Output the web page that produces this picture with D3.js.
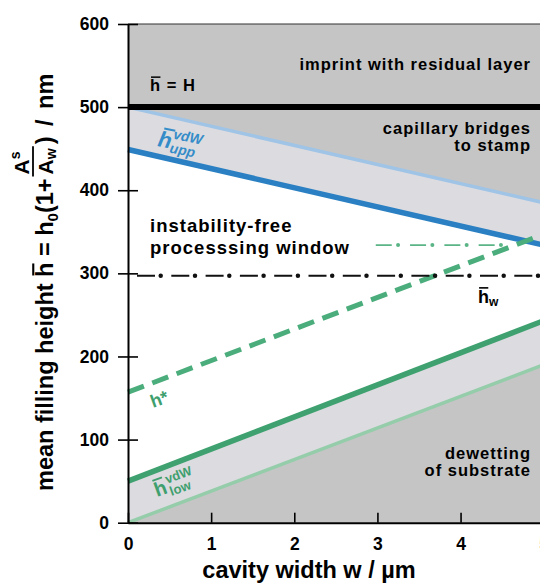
<!DOCTYPE html>
<html>
<head>
<meta charset="utf-8">
<script src="https://cdn.jsdelivr.net/npm/d3@7"></script>
<style>
  body { margin: 0; background: #fff; }
  svg { display: block; font-family: "Liberation Sans", Arial, sans-serif; font-weight: bold; }
</style>
</head>
<body>
<script>
// values (w in um, heights in nm)
const wTicks = [0, 1, 2, 3, 4, 5];
const hTicks = [0, 100, 200, 300, 400, 500, 600];
const wEnds = [0, 5];
const hUppLight = [500, 385];   // h_upp vdW, light blue
const hUppDark = [449, 334];    // dark blue
const hStar = [157, 347];       // h*, dashed
const hLowDark = [50, 243];     // dark green
const hLowLight = [0, 190];     // h_low vdW, light green
const hTotal = 500;             // h = H
const hW = 297;                 // h_w
const windowW = [2.98, 4.51];   // pointer from the window label
const windowH = 334;

const W = 540, H = 584;
const gray = "#c5c5c5", band = "#dcdbe0";

const svg = d3.select("body").append("svg")
    .attr("width", W)
    .attr("height", H);

const x = d3.scaleLinear().domain([0, 5]).range([128, 543.7]);
const y = d3.scaleLinear().domain([0, 600]).range([522.7, 24]);

const pts = (lo, hi) => wEnds.map((v, i) => ({
    w: v,
    lo: Array.isArray(lo) ? lo[i] : lo,
    hi: Array.isArray(hi) ? hi[i] : hi
}));

const area = d3.area()
    .x(d => x(d.w))
    .y0(d => y(d.lo))
    .y1(d => y(d.hi));

const line = d3.line()
    .x(d => x(d[0]))
    .y(d => y(d[1]));

// shaded regions
svg.append("path").attr("d", area(pts(hUppLight, 600))).attr("fill", gray);
svg.append("path").attr("d", area(pts(hUppDark, hUppLight))).attr("fill", band);
svg.append("path").attr("d", area(pts(hLowLight, hLowDark))).attr("fill", band);
svg.append("path").attr("d", area(pts(0, hLowLight))).attr("fill", gray);

// top border
svg.append("line")
    .attr("x1", x(0)).attr("x2", x(5))
    .attr("y1", y(600)).attr("y2", y(600))
    .attr("stroke", "#333").attr("stroke-width", 1.2);

const series = (vals) => wEnds.map((v, i) => [v, vals[i]]);

svg.append("path").attr("d", line(series(hUppLight)))
    .attr("stroke", "#9fc4e6").attr("stroke-width", 3.5).attr("fill", "none");
svg.append("path").attr("d", line(series(hUppDark)))
    .attr("stroke", "#2a80c2").attr("stroke-width", 5.5).attr("fill", "none");
svg.append("path").attr("d", line(series(hLowLight)))
    .attr("stroke", "#95cdab").attr("stroke-width", 3.5).attr("fill", "none");
svg.append("path").attr("d", line(series(hLowDark)))
    .attr("stroke", "#3ea16f").attr("stroke-width", 5.5).attr("fill", "none");
svg.append("path").attr("d", line(series(hStar)))
    .attr("stroke", "#4aad7b").attr("stroke-width", 5).attr("fill", "none")
    .attr("stroke-dasharray", "17 9");

// h = H
svg.append("path").attr("d", line([[0, hTotal], [5, hTotal]]))
    .attr("stroke", "#000").attr("stroke-width", 6).attr("fill", "none");

// h_w dash-dot
svg.append("path").attr("d", line([[0, hW], [5, hW]]))
    .attr("stroke", "#111").attr("stroke-width", 2).attr("fill", "none")
    .attr("stroke-dasharray", "18 16.3").attr("stroke-dashoffset", 25.3);
svg.append("path").attr("d", line([[0, hW], [5, hW]]))
    .attr("stroke", "#111").attr("stroke-width", 4.5).attr("fill", "none")
    .attr("stroke-linecap", "round")
    .attr("stroke-dasharray", "0 34.3").attr("stroke-dashoffset", 1.6);

// pointer from the window label
svg.append("path").attr("d", line([[windowW[0], windowH], [windowW[1], windowH]]))
    .attr("stroke", "#5bb486").attr("stroke-width", 1.8).attr("fill", "none")
    .attr("stroke-dasharray", "16 18.3");
svg.append("path").attr("d", line([[windowW[0], windowH], [windowW[1], windowH]]))
    .attr("stroke", "#5bb486").attr("stroke-width", 4).attr("fill", "none")
    .attr("stroke-linecap", "round")
    .attr("stroke-dasharray", "0 34.3").attr("stroke-dashoffset", -22.3);

// axes
const xAxis = svg.append("g")
    .attr("transform", "translate(0," + y(0) + ")")
    .call(d3.axisBottom(x).tickValues(wTicks).tickFormat(d3.format("d"))
        .tickSizeInner(-10).tickSizeOuter(0).tickPadding(15));
xAxis.select(".domain").attr("stroke-width", 2).attr("stroke", "#000");
xAxis.selectAll(".tick line").attr("stroke-width", 1.6).attr("stroke", "#000");
xAxis.selectAll("text").attr("font-size", 17.5).attr("font-family", null).attr("fill", "#000");

const yAxis = svg.append("g")
    .attr("transform", "translate(" + x(0) + ",0)")
    .call(d3.axisLeft(y).tickValues(hTicks).tickSizeInner(10).tickSizeOuter(0).tickPadding(9));
yAxis.select(".domain").attr("stroke-width", 2).attr("stroke", "#000");
yAxis.selectAll(".tick line").attr("x1", 10).attr("stroke-width", 1.6).attr("stroke", "#000");
yAxis.selectAll("text").attr("font-size", 17.5).attr("font-family", null).attr("fill", "#000");

// overline over one character of a text
function overline(t, i, fs, color, shift) {
    const n = t.node();
    const e = n.getExtentOfChar(i);
    const p = n.getStartPositionOfChar(i);
    d3.select(n.parentNode).append("line")
        .attr("x1", e.x + fs * 0.06 + (shift || 0))
        .attr("x2", e.x + e.width - fs * 0.04 + (shift || 0))
        .attr("y1", p.y - fs * 0.84).attr("y2", p.y - fs * 0.84)
        .attr("stroke", color).attr("stroke-width", fs * 0.09);
}

// region labels
const note = (g, tx, ty, str, anchor, fs, ls) => g.append("text")
    .attr("x", tx).attr("y", ty)
    .attr("text-anchor", anchor || "start")
    .attr("font-size", fs || 16.5)
    .attr("letter-spacing", ls === undefined ? 1 : ls)
    .text(str);

const hH = note(svg, 150, 91, "h = H");
overline(hH, 0, 16.5, "#000");
note(svg, 531, 70, "imprint with residual layer", "end");
note(svg, 531, 134, "capillary bridges", "end");
note(svg, 531, 151, "to stamp", "end");
note(svg, 531, 459, "dewetting", "end");
note(svg, 531, 476, "of substrate", "end");
note(svg, 150, 232, "instability-free", "start", 18.5, 1);
note(svg, 150, 254, "processsing window", "start", 18.5, 1);

const hw = svg.append("text").attr("x", 478).attr("y", 303).attr("font-size", 18);
hw.append("tspan").text("h");
hw.append("tspan").attr("font-size", 12).attr("dy", 3).text("w");
overline(hw, 0, 18, "#000");

// h_upp vdW label
const gUpp = svg.append("g").attr("transform", "translate(157,146) rotate(11)")
    .attr("fill", "#348cc8").attr("font-style", "italic");
const hUppT = gUpp.append("text").attr("font-size", 22).text("h");
gUpp.append("text").attr("x", 14).attr("y", -10).attr("font-size", 14).text("vdW");
gUpp.append("text").attr("x", 13).attr("y", 4).attr("font-size", 14).text("upp");
overline(hUppT, 0, 22, "#348cc8", 2.5);

// h_low vdW label
const gLow = svg.append("g").attr("transform", "translate(157,497) rotate(-20)")
    .attr("fill", "#3f9f6e");
const hLowT = gLow.append("text").attr("font-size", 20).text("h");
gLow.append("text").attr("x", 14).attr("y", -9).attr("font-size", 13).text("vdW");
gLow.append("text").attr("x", 14).attr("y", 4).attr("font-size", 13).text("low");
overline(hLowT, 0, 20, "#3f9f6e");

// h* label
svg.append("g").attr("transform", "translate(153,408) rotate(-20)")
    .attr("fill", "#3f9f6e")
    .append("text").attr("font-size", 18).text("h*");

// x axis title
svg.append("text")
    .attr("x", 309).attr("y", 578)
    .attr("text-anchor", "middle")
    .attr("font-size", 23.5)
    .text("cavity width w / \u00b5m");

// y axis title with fraction
const fy = 23.5;
const gY = svg.append("g").attr("transform", "translate(53,491) rotate(-90)");
const yt = gY.append("text").attr("font-size", fy);
yt.append("tspan").text("mean filling height h = h");
yt.append("tspan").attr("font-size", 15).attr("dy", 5).text("0");
yt.append("tspan").attr("dy", -5).text("(1+");
overline(yt, 20, fy, "#000");
const L = yt.node().getComputedTextLength();
const num = gY.append("text").attr("x", L + 4).attr("y", -24).attr("font-size", 21);
num.append("tspan").text("A");
num.append("tspan").attr("font-size", 14).attr("dy", -9).text("s");
const den = gY.append("text").attr("x", L + 4).attr("y", 0).attr("font-size", 21);
den.append("tspan").text("A");
den.append("tspan").attr("font-size", 14).attr("dy", 3).text("w");
const fw = Math.max(num.node().getComputedTextLength(), den.node().getComputedTextLength());
gY.append("line")
    .attr("x1", L + 2).attr("x2", L + fw + 6)
    .attr("y1", -20).attr("y2", -20)
    .attr("stroke", "#000").attr("stroke-width", 1.8);
gY.append("text").attr("x", L + fw + 8).attr("y", 0).attr("font-size", fy)
    .attr("word-spacing", 4).text(") / nm");
</script>
</body>
</html>
